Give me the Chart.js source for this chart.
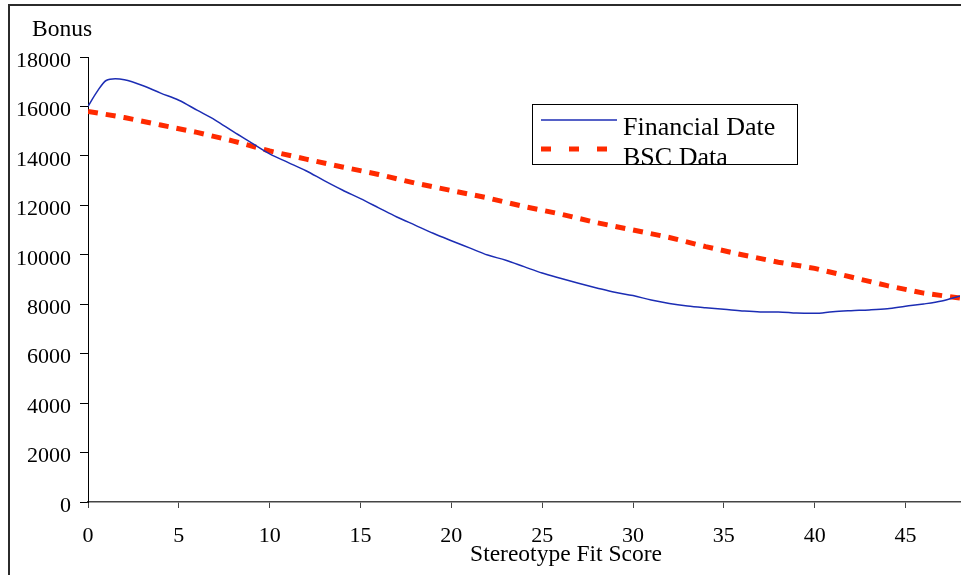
<!DOCTYPE html>
<html>
<head>
<meta charset="utf-8">
<script src="https://cdn.jsdelivr.net/npm/chart.js@4.4.1/dist/chart.umd.min.js"></script>
<style>
    html, body { margin: 0; padding: 0; background: #fff; }
    #wrap { width: 961px; height: 575px; }
</style>
</head>
<body>
<div id="wrap"><canvas id="chart" width="961" height="575"></canvas></div>
<script>
// Financial Date series (blue, solid)
const financialScores = [0, 0.5, 1, 1.5, 2, 3, 4, 5, 6, 7, 8, 9, 10, 11, 12, 13, 14, 15, 16, 17, 18, 19, 20,
    21, 22, 23, 24, 25, 26, 27, 28, 29, 30, 31, 32, 33, 34, 35, 36, 37, 38, 39, 40, 41, 42, 43, 44, 45, 46, 47, 48];
const financialBonus = [16000, 16600, 17050, 17120, 17080, 16850, 16540, 16250, 15850, 15450, 14980, 14530, 14080,
    13740, 13400, 13000, 12620, 12270, 11900, 11530, 11200, 10870, 10570, 10280, 9990, 9780, 9520, 9260, 9050,
    8850, 8660, 8480, 8350, 8170, 8030, 7930, 7860, 7800, 7730, 7690, 7690, 7640, 7630, 7700, 7740, 7770, 7820,
    7920, 8010, 8130, 8330];

// BSC Data series (red, dashed)
const bscScores = [0, 2, 4, 6, 8, 10, 12, 14, 16, 18, 20, 22, 24, 26, 28, 30, 32, 34, 36, 38, 40, 42, 44, 46, 48];
const bscBonus = [15800, 15550, 15250, 14950, 14600, 14200, 13870, 13550, 13250, 12900, 12600, 12300, 11950,
    11650, 11300, 11000, 10700, 10330, 10000, 9700, 9450, 9100, 8750, 8450, 8250];

const xTickValues = [0, 5, 10, 15, 20, 25, 30, 35, 40, 45];
const yTickValues = [0, 2000, 4000, 6000, 8000, 10000, 12000, 14000, 16000, 18000];

const seriesLabels = ['Financial Date', 'BSC Data'];
const yTitle = 'Bonus';
const xTitle = 'Stereotype Fit Score';

const serif = "'Liberation Serif', 'Times New Roman', serif";
const blue = '#1c2db4';
const red = '#ff2a00';

const toPoints = (xs, ys) => xs.map((x, i) => ({x: x, y: ys[i]}));

const decorations = {
    id: 'decorations',
    afterDatasetsDraw(chart) {
        const ctx = chart.ctx;
        ctx.save();

        // outer frame (top + left edges)
        ctx.strokeStyle = '#2b2b2b';
        ctx.lineWidth = 2;
        ctx.beginPath();
        ctx.moveTo(9, 575);
        ctx.lineTo(9, 5);
        ctx.lineTo(961, 5);
        ctx.stroke();

        // titles
        ctx.fillStyle = '#000';
        ctx.textBaseline = 'middle';
        ctx.font = `23.5px ${serif}`;
        ctx.textAlign = 'left';
        ctx.fillText(yTitle, 32, 30);
        ctx.textAlign = 'center';
        ctx.fillText(xTitle, 566, 555);

        // legend box
        const bx = 532, by = 104, bw = 265, bh = 60;
        ctx.fillStyle = '#fff';
        ctx.fillRect(bx, by, bw, bh);
        ctx.strokeStyle = '#000';
        ctx.lineWidth = 1;
        ctx.strokeRect(bx + 0.5, by + 0.5, bw, bh);

        ctx.beginPath();
        ctx.rect(bx, by, bw + 1, bh + 1);
        ctx.clip();

        const rows = [
            {y: 120, text: seriesLabels[0], color: blue, width: 1.5, dash: []},
            {y: 149, text: seriesLabels[1], color: red, width: 5, dash: [10, 18]}
        ];
        rows.forEach(r => {
            ctx.strokeStyle = r.color;
            ctx.lineWidth = r.width;
            ctx.setLineDash(r.dash);
            ctx.beginPath();
            ctx.moveTo(541, r.y);
            ctx.lineTo(617, r.y);
            ctx.stroke();
        });
        ctx.setLineDash([]);
        ctx.fillStyle = '#000';
        ctx.textAlign = 'left';
        ctx.font = `26px ${serif}`;
        ctx.fillText(rows[0].text, 623, 128);
        ctx.fillText(rows[1].text, 623, 158);

        ctx.restore();
    }
};

new Chart(document.getElementById('chart'), {
    type: 'line',
    data: {
        datasets: [{
            label: seriesLabels[0],
            data: toPoints(financialScores, financialBonus),
            borderColor: blue,
            borderWidth: 1.5,
            pointRadius: 0,
            cubicInterpolationMode: 'monotone',
            fill: false
        }, {
            label: seriesLabels[1],
            data: toPoints(bscScores, bscBonus),
            borderColor: red,
            borderWidth: 5,
            borderDash: [10, 8],
            borderCapStyle: 'butt',
            pointRadius: 0,
            tension: 0,
            fill: false
        }]
    },
    options: {
        responsive: false,
        animation: false,
        layout: {
            padding: {top: 57, right: 1, bottom: 0, left: 0}
        },
        plugins: {
            legend: {display: false},
            tooltip: {enabled: false}
        },
        scales: {
            x: {
                type: 'linear',
                min: 0,
                max: 48,
                afterBuildTicks: (scale) => {
                    scale.ticks = xTickValues.map(v => ({value: v}));
                },
                afterFit: (scale) => { scale.height = 73; },
                border: {display: true, color: '#444', width: 1.5},
                grid: {
                    display: true,
                    drawOnChartArea: false,
                    drawTicks: true,
                    tickLength: 6,
                    color: '#444'
                },
                ticks: {
                    color: '#000',
                    padding: 15,
                    maxRotation: 0,
                    callback: (value) => String(value),
                    font: {family: serif, size: 22}
                }
            },
            y: {
                min: 0,
                max: 18000,
                afterBuildTicks: (scale) => {
                    scale.ticks = yTickValues.map(v => ({value: v}));
                },
                afterFit: (scale) => { scale.width = 88; },
                border: {display: true, color: '#000', width: 1},
                grid: {
                    display: true,
                    drawOnChartArea: false,
                    drawTicks: true,
                    tickLength: 8,
                    color: '#000'
                },
                ticks: {
                    color: '#000',
                    padding: 9,
                    labelOffset: 4,
                    callback: (value) => String(value),
                    font: {family: serif, size: 22}
                }
            }
        }
    },
    plugins: [decorations]
});
</script>
</body>
</html>
